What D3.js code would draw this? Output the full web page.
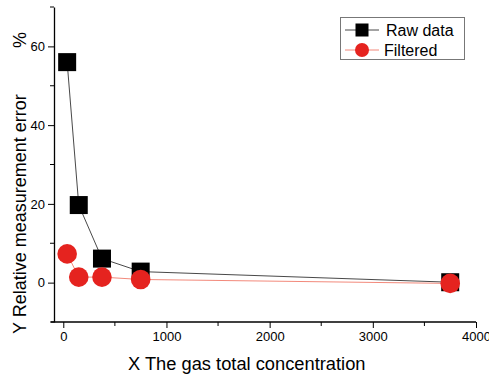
<!DOCTYPE html>
<html>
<head>
<meta charset="utf-8">
<script src="https://cdn.jsdelivr.net/npm/d3@7"></script>
<style>
  html, body { margin: 0; padding: 0; background: #fff; }
  svg { display: block; font-family: "Liberation Sans", Arial, sans-serif; }
</style>
</head>
<body>
<svg id="chart" width="489" height="376"></svg>
<script>
// Gas concentration vs. relative measurement error
const concentrations = [37.5, 150, 375, 750, 3750];
const rawError = [56, 19.7, 6.1, 2.8, 0.1];
const filteredError = [7.3, 1.4, 1.4, 0.8, -0.2];
const xTicks = [0, 1000, 2000, 3000, 4000];
const yTicks = [0, 20, 40, 60];
const seriesNames = ["Raw data", "Filtered"];

const svg = d3.select("#chart");
const plotLeft = 54, plotRight = 476, plotTop = 7, plotBottom = 322;

const x = d3.scaleLinear().domain([-90, 4000]).range([plotLeft, plotRight]);
const y = d3.scaleLinear().domain([-10, 70]).range([plotBottom, plotTop]);

// Axes
const xAxis = d3.axisBottom(x).tickValues(xTicks).tickFormat(d3.format("d"))
  .tickSize(6).tickSizeOuter(0).tickPadding(4);
const yAxis = d3.axisLeft(y).tickValues(yTicks).tickFormat(d3.format("d"))
  .tickSize(6).tickSizeOuter(0).tickPadding(3);

const gx = svg.append("g").attr("transform", `translate(0,${plotBottom})`).call(xAxis);
const gy = svg.append("g").attr("transform", `translate(${plotLeft},0)`).call(yAxis);

// Minor ticks
gx.selectAll(".minor").data([500, 1500, 2500, 3500]).enter().append("line")
  .attr("x1", d => x(d)).attr("x2", d => x(d)).attr("y1", 0).attr("y2", 4)
  .attr("stroke", "#000");
gy.selectAll(".minor").data([-10, 10, 30, 50, 70]).enter().append("line")
  .attr("y1", d => y(d)).attr("y2", d => y(d)).attr("x1", 0).attr("x2", -4)
  .attr("stroke", "#000");

[gx, gy].forEach(g => {
  g.select(".domain").attr("stroke", "#000").attr("stroke-width", 1.3);
  g.selectAll(".tick line").attr("stroke", "#000").attr("stroke-width", 1);
  g.selectAll(".tick text").attr("fill", "#000").style("font-size", "13px")
    .style("font-family", "'Liberation Sans', Arial, sans-serif");
});
gx.select(".domain").attr("d", `M${plotLeft - 3},0H${plotRight}`);

// Axis titles
svg.append("text").attr("x", 128).attr("y", 370)
  .style("font-size", "18.3px").text("X The gas total concentration");
svg.append("text")
  .attr("transform", `translate(26,334) rotate(-90)`)
  .style("font-size", "18px").text("Y Relative measurement error");
svg.append("text")
  .attr("transform", `translate(26,48) rotate(-90)`)
  .style("font-size", "18px").text("%");

// Series lines
const line = (vals) => d3.line().x((d, i) => x(concentrations[i])).y(d => y(d))(vals);

svg.append("path").attr("d", line(rawError)).attr("fill", "none")
  .attr("stroke", "#333").attr("stroke-width", 0.9);
svg.append("path").attr("d", line(filteredError)).attr("fill", "none")
  .attr("stroke", "#f07c6c").attr("stroke-width", 0.9);

// Markers
const sq = 18;
svg.selectAll(".raw").data(rawError).enter().append("rect")
  .attr("x", (d, i) => x(concentrations[i]) - sq / 2)
  .attr("y", d => y(d) - sq / 2)
  .attr("width", sq).attr("height", sq).attr("fill", "#000");
svg.selectAll(".filt").data(filteredError).enter().append("circle")
  .attr("cx", (d, i) => x(concentrations[i]))
  .attr("cy", d => y(d))
  .attr("r", 9.8).attr("fill", "#e5231f");

// Legend
const lg = svg.append("g");
lg.append("rect").attr("x", 340.5).attr("y", 17.5).attr("width", 124).attr("height", 42)
  .attr("fill", "#fff").attr("stroke", "#777").attr("stroke-width", 1);
const rows = [
  { name: seriesNames[0], y: 30, color: "#333" },
  { name: seriesNames[1], y: 50, color: "#f07c6c" }
];
rows.forEach((r, i) => {
  lg.append("line").attr("x1", 345).attr("x2", 379).attr("y1", r.y).attr("y2", r.y)
    .attr("stroke", r.color).attr("stroke-width", 0.9);
  if (i === 0) {
    lg.append("rect").attr("x", 362 - 6.5).attr("y", r.y - 6.5).attr("width", 13).attr("height", 13)
      .attr("fill", "#000");
  } else {
    lg.append("circle").attr("cx", 362).attr("cy", r.y).attr("r", 7).attr("fill", "#e5231f");
  }
  lg.append("text").attr("x", i === 0 ? 386 : 384).attr("y", r.y + 5.5)
    .style("font-size", "16px").text(r.name);
});
</script>
</body>
</html>
